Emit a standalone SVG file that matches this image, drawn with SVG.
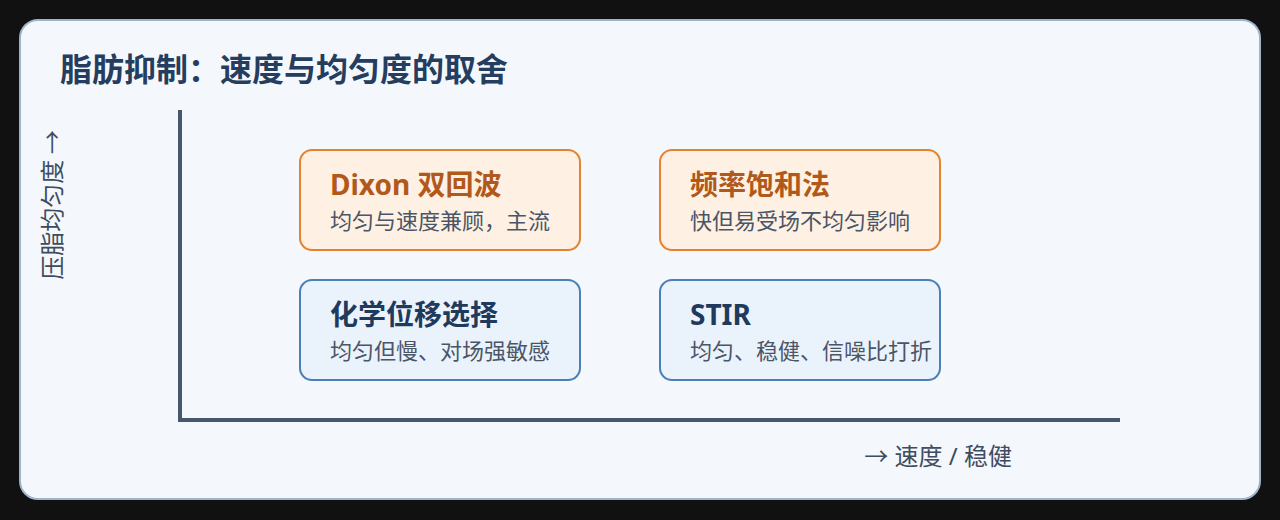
<svg xmlns="http://www.w3.org/2000/svg" width="1280" height="520" viewBox="0 0 1280 520">
  <style>
    text { font-family: "Noto Sans", "Noto Sans CJK SC", sans-serif; }
    .cjk { font-family: "Noto Sans CJK SC", sans-serif; }
    .title { font-size: 32px; font-weight: 700; fill: #253d5e; }
    .axis-label { font-size: 24px; fill: #3e4c60; }
    .axis { stroke: #46566c; stroke-width: 4; fill: none; }
    .box-warm rect { fill: #fef1e3; stroke: #e5822e; stroke-width: 2; }
    .box-cool rect { fill: #eaf2fb; stroke: #4b7fb6; stroke-width: 2; }
    .box-warm .head { fill: #b1591b; }
    .box-cool .head { fill: #1f3a5c; }
    .head { font-size: 28px; font-weight: 700; }
    .sub { font-size: 22px; fill: #4a5568; }
  </style>
  <rect x="0" y="0" width="1280" height="520" fill="#111111"/>
  <rect id="card" x="20" y="20" width="1240" height="479" rx="18" ry="18" fill="#f4f8fd" stroke="#9fb3cb" stroke-width="2"/>
  <text class="title" x="60" y="81">脂肪抑制：速度与均匀度的取舍</text>

  <g id="axes">
    <path class="axis" d="M180 110 V420 H1120"/>
    <text class="axis-label cjk" transform="translate(61,205) rotate(-90)" text-anchor="middle">压脂均匀度 →</text>
    <text class="axis-label" x="1012" y="465" text-anchor="end"><tspan class="cjk">→</tspan> 速度 / 稳健</text>
  </g>

  <g id="node-dixon" class="box-warm">
    <rect x="300" y="150" width="280" height="100" rx="12" ry="12"/>
    <text class="head" x="330" y="195">Dixon 双回波</text>
    <text class="sub" x="330" y="229">均匀与速度兼顾，主流</text>
  </g>
  <g id="node-freqsat" class="box-warm">
    <rect x="660" y="150" width="280" height="100" rx="12" ry="12"/>
    <text class="head" x="690" y="195">频率饱和法</text>
    <text class="sub" x="690" y="229">快但易受场不均匀影响</text>
  </g>
  <g id="node-chemshift" class="box-cool">
    <rect x="300" y="280" width="280" height="100" rx="12" ry="12"/>
    <text class="head" x="330" y="325">化学位移选择</text>
    <text class="sub" x="330" y="359">均匀但慢、对场强敏感</text>
  </g>
  <g id="node-stir" class="box-cool">
    <rect x="660" y="280" width="280" height="100" rx="12" ry="12"/>
    <text class="head" x="690" y="325">STIR</text>
    <text class="sub" x="690" y="359">均匀、稳健、信噪比打折</text>
  </g>
  <g id="connectors"></g>
</svg>
